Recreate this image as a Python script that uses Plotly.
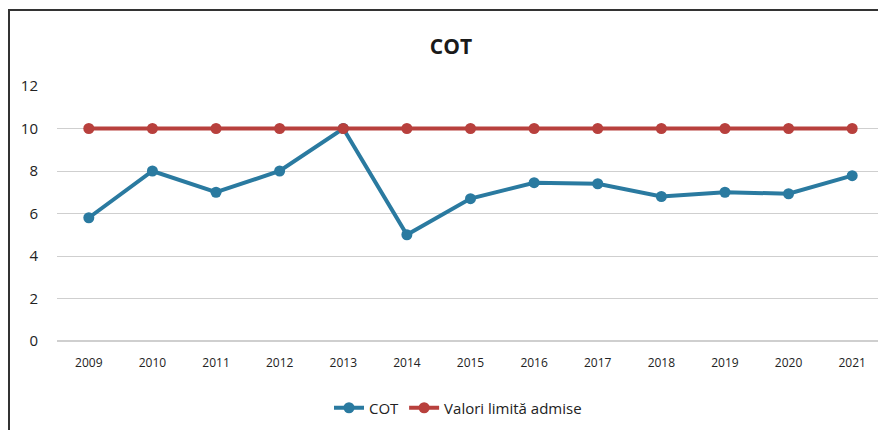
import plotly.graph_objects as go

years = ["2009", "2010", "2011", "2012", "2013", "2014", "2015", "2016", "2017", "2018", "2019", "2020", "2021"]
cot = [5.8, 8.0, 7.0, 8.0, 10.0, 5.0, 6.7, 7.45, 7.4, 6.8, 7.0, 6.93, 7.78]
limit = [10, 10, 10, 10, 10, 10, 10, 10, 10, 10, 10, 10, 10]

blue = "#2a7aa0"
red = "#b8403d"

fig = go.Figure()
fig.add_trace(go.Scatter(x=years, y=cot, name="COT", mode="lines+markers",
                         line=dict(color=blue, width=4), marker=dict(color=blue, size=11)))
fig.add_trace(go.Scatter(x=years, y=limit, name="Valori limită admise", mode="lines+markers",
                         line=dict(color=red, width=4), marker=dict(color=red, size=11)))

font_family = "Open Sans, Liberation Sans, sans-serif"

# page body has an 8px margin, so the figure is laid out 8px up/left of target
OFF = 8
L, R, T, B = 57 - OFF, 884 - OFF, 86 - OFF, 341 - OFF
PW, PH = R - L, B - T

fig.update_layout(
    width=886, height=430,
    margin=dict(l=L, r=886 - R, t=T, b=430 - B, autoexpand=False),
    paper_bgcolor="white", plot_bgcolor="white",
    font=dict(family=font_family, color="#222222"),
    title=dict(text="<b>COT</b>", x=(451 - OFF) / 886, xanchor="center", y=1 - (47 - OFF) / 430,
               yanchor="middle", yref="container",
               font=dict(size=21, color="#1a1a1a", family=font_family)),
    showlegend=True,
    legend=dict(orientation="h", x=(458 - 57) / (884 - 57), xanchor="center",
                y=(341 - 408) / 255, yanchor="middle",
                font=dict(size=15, color="#222222"), bgcolor="rgba(0,0,0,0)"),
    xaxis=dict(type="category", range=[-0.5, 12.5], showgrid=False, showline=False, ticks="",
               automargin=False, tickfont=dict(size=12, color="#222222"), ticklabelstandoff=13),
    yaxis=dict(range=[0, 12], dtick=2, showgrid=True, gridcolor="#cfcfcf", gridwidth=1,
               zeroline=True, zerolinecolor="#cfcfcf", zerolinewidth=1.5,
               showline=False, ticks="", automargin=False,
               tickfont=dict(size=15, color="#222222"), ticklabelstandoff=18),
    shapes=[dict(type="rect", xref="paper", yref="paper",
                 x0=(1 - L) / PW, x1=(900 - OFF - L) / PW,
                 y0=(B - 445) / PH, y1=(B - (10 - OFF)) / PH,
                 line=dict(color="#333333", width=2), fillcolor="rgba(0,0,0,0)", layer="below")],
)

fig.write_html("out.html")
